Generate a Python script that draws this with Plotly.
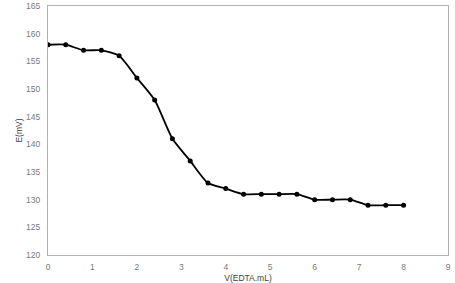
import plotly.graph_objects as go

volume = [0, 0.4, 0.8, 1.2, 1.6, 2.0, 2.4, 2.8, 3.2, 3.6, 4.0, 4.4, 4.8, 5.2, 5.6, 6.0, 6.4, 6.8, 7.2, 7.6, 8.0]
potential = [158, 158, 157, 157, 156, 152, 148, 141, 137, 133, 132, 131, 131, 131, 131, 130, 130, 130, 129, 129, 129]
x_ticks = list(range(0, 10))
y_ticks = list(range(120, 166, 5))

fig = go.Figure(go.Scatter(
    x=volume, y=potential, mode="lines+markers",
    line=dict(color="black", width=1.8, shape="spline", smoothing=0.6),
    marker=dict(color="black", size=5),
))

tick_font = dict(family="Liberation Sans, Arial", size=8.5, color="#7a7a7a")
title_font = dict(family="Liberation Sans, Arial", size=8.5, color="#404040")
axis_common = dict(
    showgrid=False, zeroline=False, showline=True, linecolor="#b0b0b0", linewidth=1,
    mirror=True, ticks="outside", tickcolor="rgba(0,0,0,0)", tickfont=tick_font,
    automargin=False,
)
fig.update_layout(
    width=455, height=283, margin=dict(l=48, r=7, t=6, b=28),
    paper_bgcolor="white", plot_bgcolor="white", showlegend=False,
    xaxis=dict(range=[0, 9], tickvals=x_ticks, ticklen=4,
               title=dict(text="V(EDTA.mL)", font=title_font, standoff=5),
               **axis_common),
    yaxis=dict(range=[120, 165], tickvals=y_ticks, ticklen=5,
               title=dict(text="E(mV)", font=title_font, standoff=2),
               **axis_common),
)
fig.write_html("out.html")
